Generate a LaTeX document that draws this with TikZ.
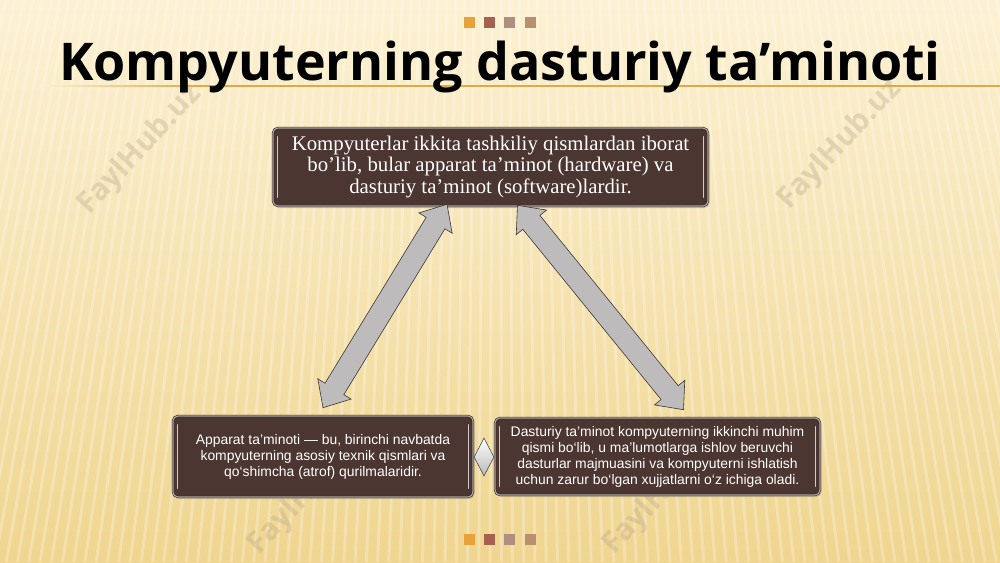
\documentclass[tikz,border=0pt]{standalone}
\usepackage{fontspec}
\setmainfont{Liberation Serif}
\newfontfamily\titlefont{Open Sans}
\newfontfamily\boxsans{Liberation Sans}
\usetikzlibrary{calc,shapes.geometric,shadows}
\definecolor{bgtop}{HTML}{FCF1D3}
\definecolor{bgbot}{HTML}{EFD58F}
\definecolor{boxbrown}{HTML}{4B3631}
\definecolor{boxedge}{HTML}{2E221E}
\definecolor{boxring}{HTML}{B3AAA6}
\definecolor{arrowgray}{HTML}{BDBBBB}
\definecolor{arrowedge}{HTML}{3A3636}
\definecolor{goldline}{HTML}{E0A948}
\definecolor{sqA}{HTML}{E9A23B}
\definecolor{sqB}{HTML}{A5604F}
\definecolor{sqC}{HTML}{AE8E80}
\definecolor{sqD}{HTML}{B98F6E}
\definecolor{wmark}{HTML}{B8A58A}
\tikzset{
  infobox/.style={rounded corners=5pt, fill=boxbrown, draw=boxedge, double=boxring,
    double distance=1.1pt, line width=0.6pt, inner sep=0pt, align=center, text=white,
    drop shadow={opacity=0.35, shadow xshift=1.5pt, shadow yshift=-2pt}},
  topbox/.style={infobox, minimum width=435pt, minimum height=78pt,
    font=\fontsize{20.8}{21.5}\selectfont},
  lowbox/.style={infobox, font=\boxsans\fontsize{13.9}{16}\selectfont},
  shine/.style={draw=white, opacity=0.75, line width=1pt, line cap=round},
  grayarrow/.style={fill=arrowgray, draw=arrowedge, line width=0.6pt, line join=miter},
  stripe/.style={draw=white, opacity=0.25, line width=3pt},
  sq/.style={minimum size=11pt, inner sep=0pt},
  wm/.style={text=wmark, opacity=0.35, font=\titlefont\bfseries\fontsize{30}{30}\selectfont, rotate=47},
  gem/.style={diamond, minimum width=20pt, minimum height=38pt, inner sep=0pt,
    top color=white, bottom color=gray!55, draw=gray!60!black, line width=0.6pt}
}
\newcommand\blockarrow[2]{%
  \coordinate (#1h) at ($(#1)!22pt!(#2)$);
  \coordinate (#2h) at ($(#2)!22pt!(#1)$);
  \draw[grayarrow] (#1) -- ($(#1h)!19.5pt!90:(#2)$) -- ($(#1h)!11pt!90:(#2)$)
    -- ($(#2h)!11pt!-90:(#1)$) -- ($(#2h)!19.5pt!-90:(#1)$) -- (#2)
    -- ($(#2h)!19.5pt!90:(#1)$) -- ($(#2h)!11pt!90:(#1)$)
    -- ($(#1h)!11pt!-90:(#2)$) -- ($(#1h)!19.5pt!-90:(#2)$) -- cycle;
}
\begin{document}
\begin{tikzpicture}[x=1pt,y=-1pt]
\useasboundingbox (0,0) rectangle (1000,562);
% background
\shade[top color=bgtop, bottom color=bgbot] (0,0) rectangle (1000,562);
\begin{scope}
  \clip (0,0) rectangle (1000,562);
  \foreach \x in {-300,-291,...,1300} \draw[stripe] (\x,0) -- ({500+(\x-500)*1.25},562);
  % watermarks
  \node[wm] (w1) at (140,150) {FaylHub.uz};
  \node[wm] (w3) at (840,145) {FaylHub.uz};
  \node[wm] (w5) at (310,490) {FaylHub.uz};
  \node[wm] (w6) at (665,490) {FaylHub.uz};
\end{scope}
% decorative squares
\foreach \c/\x in {sqA/469,sqB/489.5,sqC/509.5,sqD/530.5}{
  \node[sq, fill=\c] (t\c) at (\x,22.5) {};
  \node[sq, fill=\c] (b\c) at (\x,539.5) {};
}
% title and rule
\shade[left color=bgtop, right color=goldline] (40,85.2) rectangle (200,86.8);
\fill[goldline] (200,85.2) rectangle (1000,86.8);
\node[anchor=base, font=\titlefont\bfseries\fontsize{52}{58}\selectfont, inner sep=0pt] (title) at (500,80) {Kompyuterning dasturiy ta’minoti};
% boxes
\node[topbox] (top) at (490.5,167) {Kompyuterlar ikkita tashkiliy qismlardan iborat\\ bo’lib, bular apparat ta’minot (hardware) va\\ dasturiy ta’minot (software)lardir.};
\node[lowbox, minimum width=300pt, minimum height=81pt] (left) at (323,456.5) {Apparat ta’minoti — bu, birinchi navbatda\\ kompyuterning asosiy texnik qismlari va\\ qo‘shimcha (atrof) qurilmalaridir.};
\node[lowbox, minimum width=325pt, minimum height=77pt] (right) at (657.5,456.5) {Dasturiy ta’minot kompyuterning ikkinchi muhim\\ qismi bo‘lib, u ma’lumotlarga ishlov beruvchi\\ dasturlar majmuasini va kompyuterni ishlatish\\ uchun zarur bo‘lgan xujjatlarni o‘z ichiga oladi.};
% inner highlights
\foreach \n in {top,left,right}{
  \draw[shine] ($(\n.north west)+(5,9)$) -- ($(\n.south west)+(5,-9)$);
  \draw[shine] ($(\n.north east)+(-5,9)$) -- ($(\n.south east)+(-5,-9)$);
}
% diamond
\node[gem] (dia) at (484,457) {};
% arrows
\coordinate (la1) at ($(top.south)+(-43.5,-2)$);
\coordinate (la2) at ($(left.north)+(0,-8)$);
\coordinate (ra1) at ($(top.south)+(27,-1)$);
\coordinate (ra2) at ($(right.north)+(26,-8)$);
\blockarrow{la1}{la2}
\blockarrow{ra1}{ra2}
\end{tikzpicture}
\end{document}
